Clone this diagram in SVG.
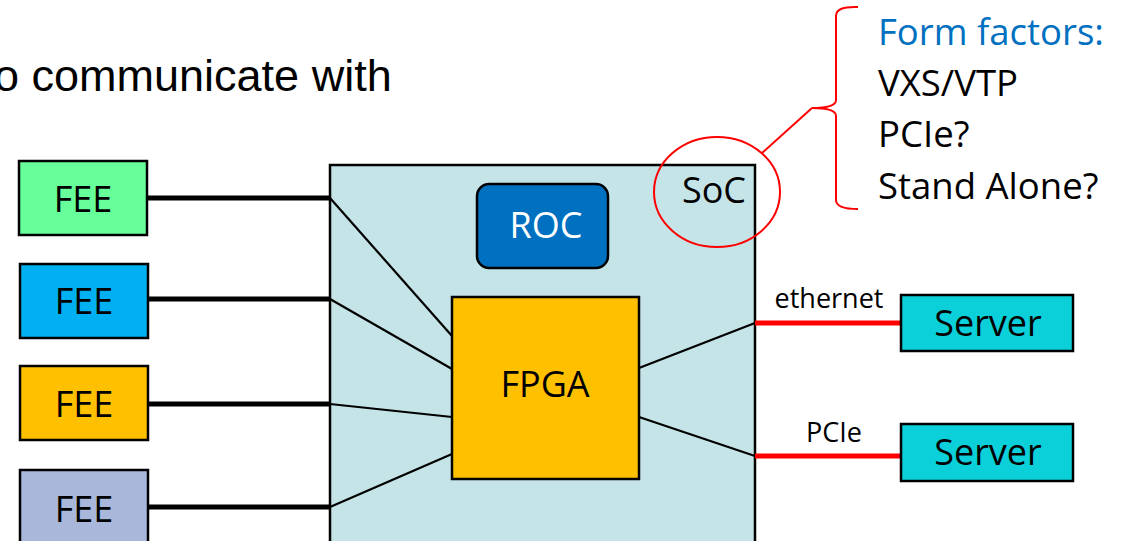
<svg xmlns="http://www.w3.org/2000/svg" width="1132" height="541" viewBox="0 0 1132 541">
<style>
.box{stroke:#000;stroke-width:2.5}
.lbl{font-family:"Open Sans","Liberation Sans",sans-serif;fill:#000;text-anchor:middle}
.big{font-size:36px}
.thick{stroke:#000;stroke-width:5;fill:none}
.thin{stroke:#000;stroke-width:2.2;fill:none}
.red{stroke:#FF0000;stroke-width:5;fill:none}
.callout{stroke:#FF0000;stroke-width:2;fill:none}
.side{font-family:"Open Sans","Liberation Sans",sans-serif;font-size:36.5px;fill:#000}
</style>
<rect width="1132" height="541" fill="#fff"/>
<text x="-6" y="91" font-family="Liberation Sans, Arial, sans-serif" font-size="45" fill="#000">o communicate with</text>

<g id="soc">
<rect class="box" x="330" y="165" width="425" height="400" fill="#C5E4E8"/>
<text class="lbl big" x="746" y="203" style="text-anchor:end">SoC</text>
</g>

<g id="connectors">
<line class="thick" x1="147" y1="198" x2="330" y2="198"/>
<line class="thick" x1="147" y1="299" x2="330" y2="299"/>
<line class="thick" x1="147" y1="404" x2="330" y2="404"/>
<line class="thick" x1="147" y1="507" x2="330" y2="507"/>
<line class="thin" x1="330" y1="198" x2="452" y2="336"/>
<line class="thin" x1="330" y1="299" x2="452" y2="369"/>
<line class="thin" x1="330" y1="404" x2="452" y2="417"/>
<line class="thin" x1="330" y1="507" x2="452" y2="454"/>
<line class="thin" x1="639" y1="368" x2="755" y2="323"/>
<line class="thin" x1="639" y1="417" x2="755" y2="456"/>
<line class="red" x1="755" y1="323" x2="901" y2="323"/>
<line class="red" x1="755" y1="456" x2="901" y2="456"/>
<text class="lbl" x="829" y="308" font-size="27">ethernet</text>
<text class="lbl" x="834" y="442" font-size="27">PCIe</text>
</g>

<g id="fee1">
<rect class="box" x="19" y="161" width="128" height="74" fill="#66FF99"/>
<text class="lbl big" x="83" y="212">FEE</text>
</g>
<g id="fee2">
<rect class="box" x="20" y="264" width="128" height="74" fill="#00B0F0"/>
<text class="lbl big" x="84" y="314">FEE</text>
</g>
<g id="fee3">
<rect class="box" x="20" y="366" width="128" height="74" fill="#FFC000"/>
<text class="lbl big" x="84" y="417">FEE</text>
</g>
<g id="fee4">
<rect class="box" x="20" y="470" width="128" height="90" fill="#A9B8DA"/>
<text class="lbl big" x="84" y="522">FEE</text>
</g>

<g id="roc">
<rect class="box" x="477" y="184" width="131" height="84" rx="12" fill="#0070C0"/>
<text class="lbl big" x="546" y="238" style="fill:#fff">ROC</text>
</g>

<g id="fpga">
<rect class="box" x="452" y="297" width="187" height="182" fill="#FFC000"/>
<text class="lbl big" x="545" y="397">FPGA</text>
</g>

<g id="server1">
<rect class="box" x="901" y="295" width="172" height="56" fill="#0BD0D9"/>
<text class="lbl big" x="988" y="336">Server</text>
</g>
<g id="server2">
<rect class="box" x="901" y="424" width="172" height="57" fill="#0BD0D9"/>
<text class="lbl big" x="988" y="465">Server</text>
</g>

<g id="callout">
<ellipse class="callout" cx="717" cy="192" rx="63" ry="55"/>
<line class="callout" x1="762" y1="153" x2="812" y2="108"/>
<path class="callout" d="M858,7 Q836,6 836,16 L836,100 Q836,108 812,108 Q836,108 836,116 L836,200 Q836,209 858,209"/>
<text class="side" x="878" y="45" style="fill:#0070C0">Form factors:</text>
<text class="side" x="878" y="96">VXS/VTP</text>
<text class="side" x="878" y="147">PCIe?</text>
<text class="side" x="878" y="199">Stand Alone?</text>
</g>
</svg>
